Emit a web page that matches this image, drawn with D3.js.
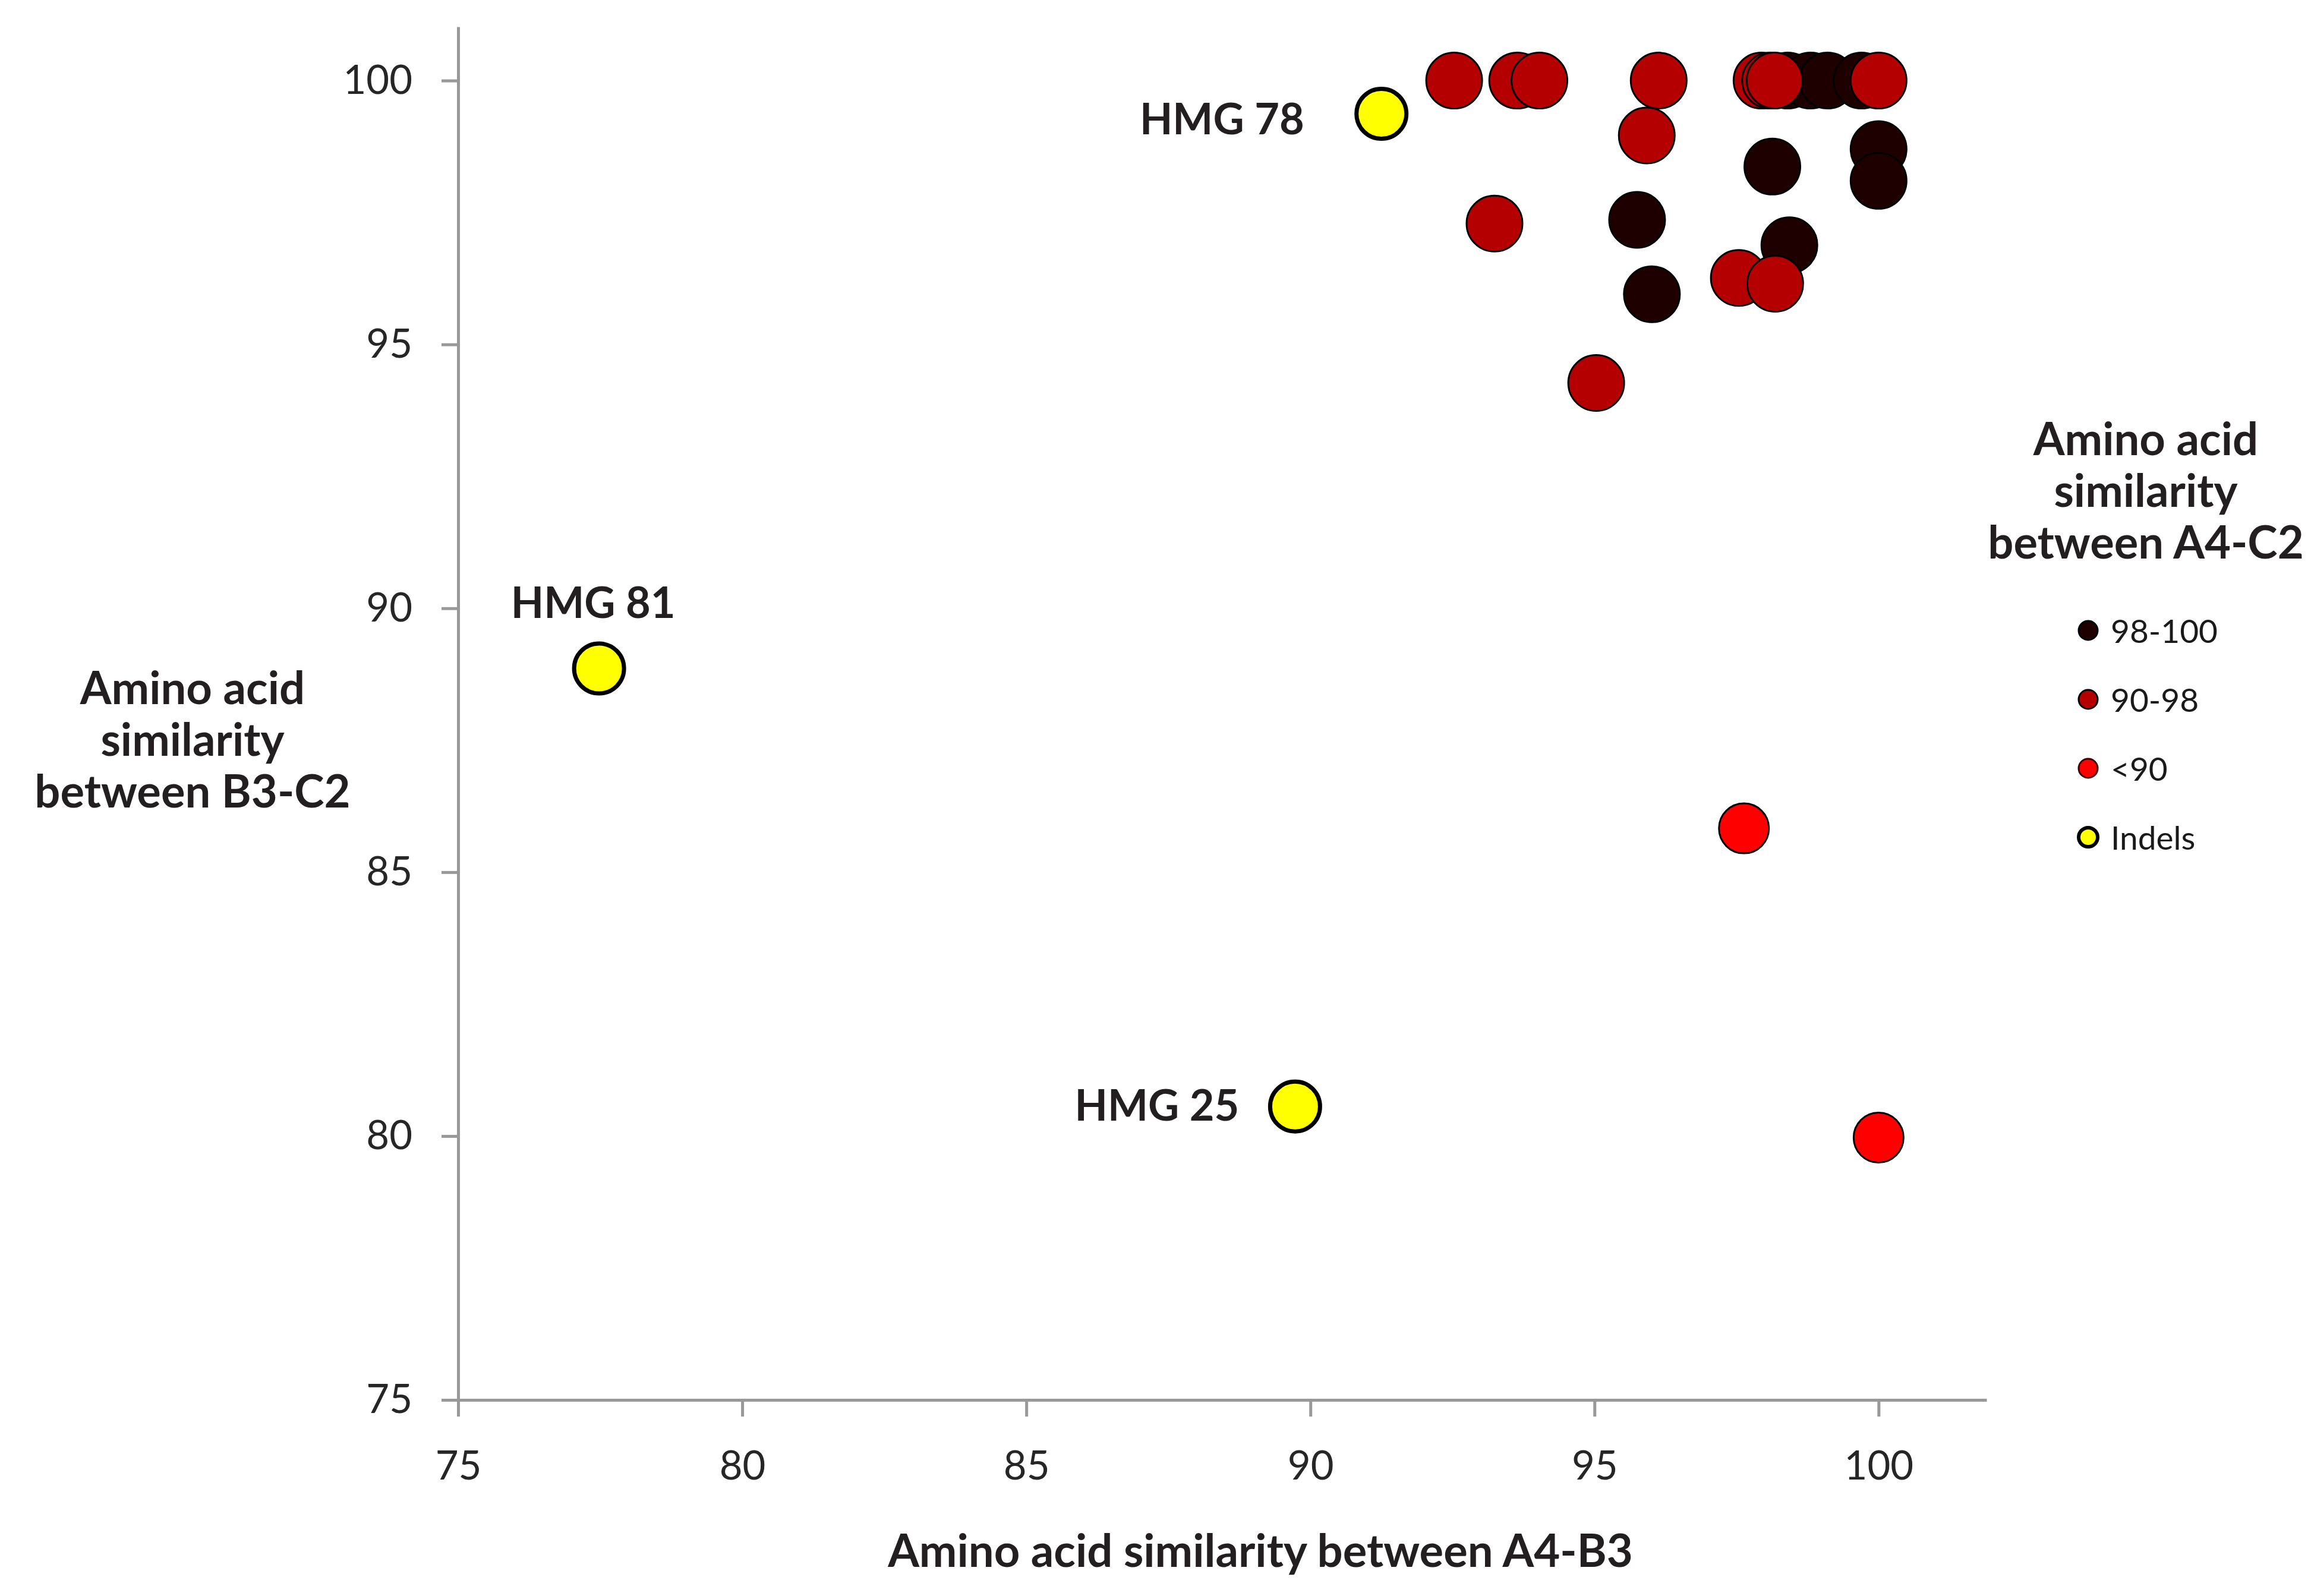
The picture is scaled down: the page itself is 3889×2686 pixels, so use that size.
<!DOCTYPE html>
<html>
<head>
<meta charset="utf-8">
<script src="https://cdn.jsdelivr.net/npm/d3@7"></script>
<style>
  body { margin: 0; background: #fff; }
  .axis path, .axis line { stroke: #999; stroke-width: 5; }
  .axis text { font-family: Lato, sans-serif; font-size: 67px; fill: #262626; }
  .title { font-family: Lato, sans-serif; font-weight: 700; font-size: 76px; fill: #231f20; }
  .hmg { font-family: Lato, sans-serif; font-weight: 700; font-size: 72px; fill: #231f20; }
  .legend-label { font-family: Lato, sans-serif; font-size: 55px; fill: #1a1a1a; }
</style>
</head>
<body>
<svg id="chart"></svg>
<script>
// categories (legend order)
const groups = ['98-100', '90-98', '<90', 'Indels'];
const groupColors = ['#1e0000', '#b40000', '#ff0000', '#ffff00'];

// Amino acid similarity between A4-B3 (x) / B3-C2 (y), one entry per gene
const simA4B3 = [
  // 98-100
  95.75, 96.01, 98.13, 98.43, 100, 100, 98.4, 98.8, 99.1, 99.7,
  // 90-98
  92.53, 93.64, 94.03, 96.13, 95.92, 93.24, 95.03, 97.54, 98.18, 97.94, 98.09, 98.17, 100,
  // <90
  97.63, 100,
  // Indels
  91.25, 77.48, 89.73
];
const simB3C2 = [
  97.36, 95.95, 98.37, 96.88, 98.7, 98.1, 100, 100, 100, 100,
  100, 100, 100, 100, 98.96, 97.29, 94.27, 96.26, 96.15, 100, 100, 100, 100,
  85.83, 79.97,
  99.37, 88.86, 80.56
];
const simGroup = [
  '98-100', '98-100', '98-100', '98-100', '98-100', '98-100', '98-100', '98-100', '98-100', '98-100',
  '90-98', '90-98', '90-98', '90-98', '90-98', '90-98', '90-98', '90-98', '90-98', '90-98', '90-98', '90-98', '90-98',
  '<90', '<90',
  'Indels', 'Indels', 'Indels'
];
const geneName = [
  '', '', '', '', '', '', '', '', '', '',
  '', '', '', '', '', '', '', '', '', '', '', '', '',
  '', '',
  'HMG 78', 'HMG 81', 'HMG 25'
];

const xTicks = [75, 80, 85, 90, 95, 100];
const yTicks = [75, 80, 85, 90, 95, 100];

const width = 3889, height = 2686;
const svg = d3.select('#chart').attr('width', width).attr('height', height);

const data = simA4B3.map((x, i) => ({ x: x, y: simB3C2[i], group: simGroup[i], name: geneName[i] }));

const xScale = d3.scaleLinear().domain([75, 101.9]).range([771, 3343]);
const yScale = d3.scaleLinear().domain([75, 101.02]).range([2356, 45]);
const colorScale = d3.scaleOrdinal().domain(groups).range(groupColors);

// axes
const xAxis = d3.axisBottom(xScale).tickValues(xTicks).tickSize(28).tickSizeOuter(0).tickPadding(58);
const yAxis = d3.axisLeft(yScale).tickValues(yTicks).tickSize(28).tickSizeOuter(0).tickPadding(49);

svg.append('g')
    .attr('class', 'axis x-axis')
    .attr('transform', `translate(0,${yScale(75)})`)
    .call(xAxis);

svg.append('g')
    .attr('class', 'axis y-axis')
    .attr('transform', `translate(${xScale(75)},0)`)
    .call(yAxis);

// points, drawn group by group so the dark ones sit at the back
const radius = { '98-100': 47, '90-98': 47, '<90': 42, 'Indels': 42 };
const strokeW = { '98-100': 3, '90-98': 3, '<90': 3, 'Indels': 7 };

svg.append('g').selectAll('circle')
    .data(data)
  .join('circle')
    .attr('cx', d => xScale(d.x))
    .attr('cy', d => yScale(d.y))
    .attr('r', d => radius[d.group])
    .attr('fill', d => colorScale(d.group))
    .attr('stroke', '#000')
    .attr('stroke-width', d => strokeW[d.group]);

// gene labels for the indel points
const labelPlace = {
  'HMG 78': { anchor: 'end', dx: -130, dy: 34 },
  'HMG 81': { anchor: 'middle', dx: -10, dy: -85 },
  'HMG 25': { anchor: 'end', dx: -94, dy: 24 }
};
svg.append('g').selectAll('text')
    .data(data.filter(d => d.name))
  .join('text')
    .attr('class', 'hmg')
    .attr('x', d => xScale(d.x) + labelPlace[d.name].dx)
    .attr('y', d => yScale(d.y) + labelPlace[d.name].dy)
    .attr('text-anchor', d => labelPlace[d.name].anchor)
    .text(d => d.name);

// axis titles
svg.append('text')
    .attr('class', 'title')
    .attr('x', 2121)
    .attr('y', 2637)
    .attr('text-anchor', 'middle')
    .text('Amino acid similarity between A4-B3');

const yTitle = svg.append('text')
    .attr('class', 'title')
    .attr('text-anchor', 'middle');
['Amino acid', 'similarity', 'between B3-C2'].forEach((t, i) => {
  yTitle.append('tspan').attr('x', 324).attr('y', 1185 + i * 87).text(t);
});

// legend
const legendTitle = svg.append('text')
    .attr('class', 'title')
    .attr('text-anchor', 'middle');
['Amino acid', 'similarity', 'between A4-C2'].forEach((t, i) => {
  legendTitle.append('tspan').attr('x', 3611).attr('y', 766 + i * 87).text(t);
});

const legend = svg.append('g').selectAll('g')
    .data(groups)
  .join('g')
    .attr('transform', (d, i) => `translate(3514,${1061 + i * 116})`);

legend.append('circle')
    .attr('r', 16)
    .attr('fill', d => colorScale(d))
    .attr('stroke', d => d === '<90' ? '#400000' : '#000')
    .attr('stroke-width', d => d === 'Indels' ? 6 : 3);

legend.append('text')
    .attr('class', 'legend-label')
    .attr('x', 38)
    .attr('y', 21)
    .text(d => d);
</script>
</body>
</html>
